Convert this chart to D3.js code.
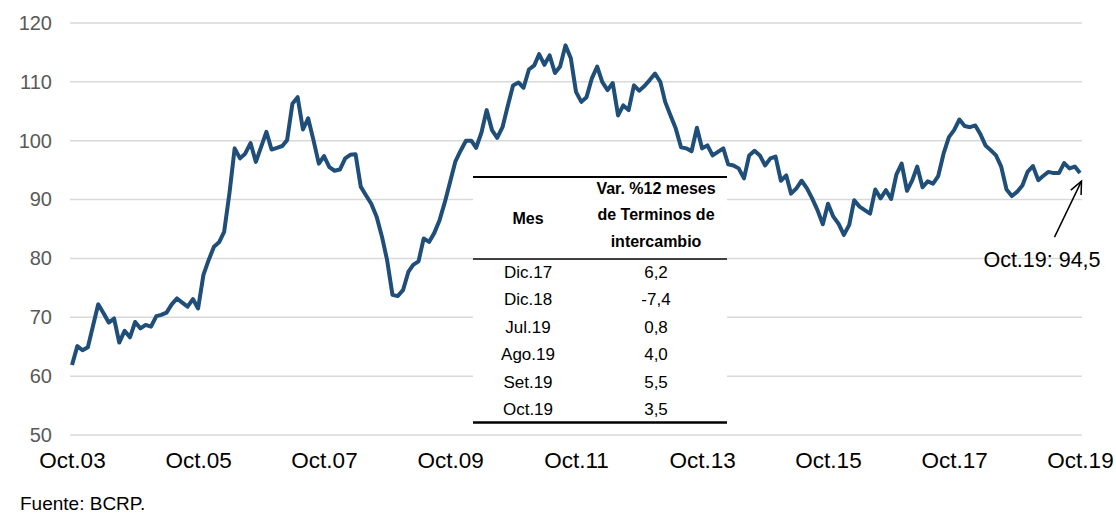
<!DOCTYPE html>
<html>
<head>
<meta charset="utf-8">
<script src="https://cdnjs.cloudflare.com/ajax/libs/d3/7.8.5/d3.min.js"></script>
<style>
  html, body { margin: 0; padding: 0; background: #fff; }
  svg { display: block; font-family: Arial, "Liberation Sans", sans-serif; }
</style>
</head>
<body>
<svg id="chart" width="1116" height="515"></svg>
<script>
// ---- Data ----
const startMonth = new Date(2003, 9, 1);   // Oct.03
const endMonth = new Date(2019, 9, 1);     // Oct.19
const months = d3.timeMonth.range(startMonth, d3.timeMonth.offset(endMonth, 1));

// Términos de intercambio (índice), Oct.03 - Oct.19, monthly
const termsOfTrade = [
  61.9, 65.1, 64.4, 64.9, 68.7, 72.2, 70.7, 69.1, 69.8, 65.7, 67.7, 66.6,
  69.2, 68.1, 68.7, 68.4, 70.2, 70.4, 70.8, 72.2, 73.2, 72.5, 71.8, 73.1,
  71.5, 77.2, 79.7, 82.0, 82.8, 84.5, 91.1, 98.7, 97.0, 97.8, 99.6, 96.4,
  98.9, 101.5, 98.5, 98.8, 99.1, 100.1, 106.3, 107.4, 101.9, 103.8, 100.1, 96.1,
  97.4, 95.5, 94.9, 95.1, 97.0, 97.6, 97.7, 92.2, 90.7, 89.3, 87.1, 83.7,
  79.7, 73.8, 73.6, 74.6, 77.7, 78.9, 79.5, 83.4, 82.8, 84.3, 86.5, 89.6,
  93.0, 96.5, 98.3, 100.0, 100.0, 98.8, 101.4, 105.2, 101.8, 100.5, 102.3, 106.0,
  109.4, 109.9, 109.0, 112.1, 112.8, 114.7, 112.9, 114.5, 111.5, 112.6, 116.2, 114.0,
  108.3, 106.6, 107.4, 110.6, 112.6, 110.0, 108.6, 109.8, 104.3, 106.0, 105.2, 109.4,
  108.5, 109.3, 110.3, 111.4, 110.0, 106.6, 104.3, 102.1, 98.9, 98.7, 98.2, 102.2,
  98.7, 99.2, 97.5, 98.1, 98.7, 96.0, 95.8, 95.3, 93.6, 97.5, 98.3, 97.5,
  95.8, 97.0, 97.3, 93.2, 94.1, 91.0, 91.9, 93.2, 91.9, 90.2, 88.2, 85.8,
  89.3, 87.1, 85.9, 84.0, 85.7, 89.9, 88.8, 88.2, 87.6, 91.7, 90.2, 91.6,
  90.1, 94.3, 96.1, 91.5, 93.3, 95.6, 92.1, 93.1, 92.7, 94.0, 97.8, 100.6,
  101.8, 103.6, 102.5, 102.3, 102.6, 101.2, 99.2, 98.4, 97.5, 95.6, 91.7, 90.6,
  91.3, 92.4, 94.7, 95.7, 93.3, 94.0, 94.7, 94.5, 94.5, 96.2, 95.3, 95.6,
  94.5
];

const xTickLabels = ["Oct.03", "Oct.05", "Oct.07", "Oct.09", "Oct.11", "Oct.13", "Oct.15", "Oct.17", "Oct.19"];
const yTicks = [50, 60, 70, 80, 90, 100, 110, 120];

const tableMonths = ["Dic.17", "Dic.18", "Jul.19", "Ago.19", "Set.19", "Oct.19"];
const tableValues = ["6,2", "-7,4", "0,8", "4,0", "5,5", "3,5"];
const tableHeader = ["Var. %12 meses", "de Terminos de", "intercambio"];

const annotationText = "Oct.19: 94,5";
const sourceText = "Fuente: BCRP.";

// ---- Chart ----
const svg = d3.select("#chart");
const data = months.map((d, i) => ({ date: d, value: termsOfTrade[i] }));

const x = d3.scaleTime().domain([startMonth, endMonth]).range([72, 1080]);
const y = d3.scaleLinear().domain([50, 120]).range([435, 23]);

// gridlines
svg.append("g")
  .selectAll("line")
  .data(yTicks)
  .join("line")
  .attr("x1", 70).attr("x2", 1082)
  .attr("y1", d => y(d)).attr("y2", d => y(d))
  .attr("stroke", "#d9d9d9").attr("stroke-width", 1.5);

// y axis labels
const yAxis = d3.axisLeft(y).tickValues(yTicks).tickSize(0).tickPadding(0).tickFormat(d3.format("d"));
const gy = svg.append("g").attr("transform", "translate(52,0)").call(yAxis);
gy.select(".domain").remove();
gy.selectAll("text").attr("font-size", "20px").attr("fill", "#595959")
  .attr("font-family", "Arial, 'Liberation Sans', sans-serif");

// x axis labels
const xTickDates = xTickLabels.map(s => new Date(2000 + (+s.slice(4)), 9, 1));
const xAxis = d3.axisBottom(x).tickValues(xTickDates).tickSize(0).tickPadding(0)
  .tickFormat((d, i) => xTickLabels[i]);
const gx = svg.append("g").attr("transform", "translate(0,452)").call(xAxis);
gx.select(".domain").remove();
gx.selectAll("text").attr("font-size", "22.5px").attr("fill", "#000")
  .attr("font-family", "Arial, 'Liberation Sans', sans-serif");

// line
const line = d3.line().x(d => x(d.date)).y(d => y(d.value));
svg.append("path")
  .datum(data)
  .attr("fill", "none")
  .attr("stroke", "#1f4e79")
  .attr("stroke-width", 4)
  .attr("stroke-linejoin", "round")
  .attr("d", line);

// table
const tX0 = 473, tX1 = 727;
const tg = svg.append("g").attr("font-family", "Arial, 'Liberation Sans', sans-serif");
tg.append("rect").attr("x", tX0).attr("y", 177).attr("width", tX1 - tX0).attr("height", 246).attr("fill", "#fff");
tg.append("line").attr("x1", tX0).attr("x2", tX1).attr("y1", 177).attr("y2", 177).attr("stroke", "#000").attr("stroke-width", 2.2);
tg.append("line").attr("x1", tX0).attr("x2", tX1).attr("y1", 259).attr("y2", 259).attr("stroke", "#000").attr("stroke-width", 1.6);
tg.append("line").attr("x1", tX0).attr("x2", tX1).attr("y1", 422.5).attr("y2", 422.5).attr("stroke", "#000").attr("stroke-width", 2.6);

const col1 = 528, col2 = 656;
tg.append("text").attr("x", col1).attr("y", 218).attr("text-anchor", "middle").attr("dominant-baseline", "central")
  .attr("font-weight", "bold").attr("font-size", "16px").text("Mes");
tg.selectAll("text.hdr").data(tableHeader).join("text").attr("class", "hdr")
  .attr("x", col2).attr("y", (d, i) => 188 + i * 26.5)
  .attr("text-anchor", "middle").attr("dominant-baseline", "central")
  .attr("font-weight", "bold").attr("font-size", "16px").text(d => d);

const rowY = d3.scalePoint().domain(tableMonths).range([272.5, 409.5]);
tg.selectAll("text.m").data(tableMonths).join("text").attr("class", "m")
  .attr("x", col1).attr("y", d => rowY(d))
  .attr("text-anchor", "middle").attr("dominant-baseline", "central")
  .attr("font-size", "17px").text(d => d);
tg.selectAll("text.v").data(tableValues).join("text").attr("class", "v")
  .attr("x", col2).attr("y", (d, i) => rowY(tableMonths[i]))
  .attr("text-anchor", "middle").attr("dominant-baseline", "central")
  .attr("font-size", "17px").text(d => d);

// annotation arrow
const last = data[data.length - 1];
const tipX = x(last.date) + 1.5, tipY = y(last.value) + 8;
const tailX = tipX - 27, tailY = tipY + 56;
svg.append("line").attr("x1", tailX).attr("y1", tailY).attr("x2", tipX).attr("y2", tipY)
  .attr("stroke", "#000").attr("stroke-width", 1.5);
const ang = Math.atan2(tipY - tailY, tipX - tailX);
const ah = 14, aw = 0.42;
svg.append("path")
  .attr("d", `M${tipX - ah * Math.cos(ang - aw)},${tipY - ah * Math.sin(ang - aw)} L${tipX},${tipY} L${tipX - ah * Math.cos(ang + aw)},${tipY - ah * Math.sin(ang + aw)}`)
  .attr("fill", "none").attr("stroke", "#000").attr("stroke-width", 1.5);
svg.append("text").attr("x", 1042).attr("y", 267).attr("text-anchor", "middle")
  .attr("font-size", "21.5px").attr("fill", "#000").text(annotationText);

// source
svg.append("text").attr("x", 20).attr("y", 510).attr("font-size", "19px").attr("fill", "#000").text(sourceText);
</script>
</body>
</html>
